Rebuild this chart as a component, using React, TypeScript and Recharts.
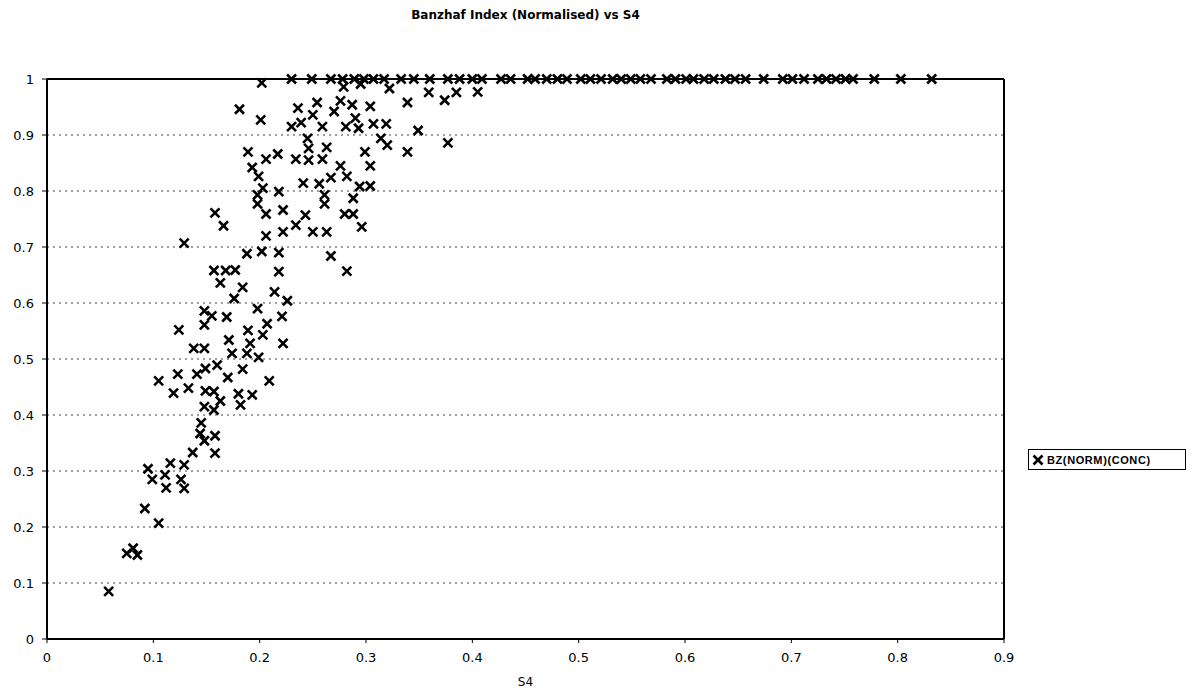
import { ScatterChart, Scatter, XAxis, YAxis, CartesianGrid, ReferenceLine, Legend } from "recharts";

// S4 values of the points that sit on the BZ = 1 line
const s4AtOne = [
  0.23, 0.249, 0.267, 0.278, 0.289, 0.298, 0.307, 0.317, 0.333, 0.345, 0.36, 0.377, 0.388, 0.4, 0.409,
  0.427, 0.436, 0.452, 0.459, 0.47, 0.48, 0.489, 0.502, 0.511, 0.521, 0.532, 0.54, 0.549, 0.558, 0.568,
  0.583, 0.591, 0.601, 0.608, 0.618, 0.627, 0.638, 0.647, 0.657, 0.674, 0.692, 0.701, 0.712, 0.725,
  0.733, 0.742, 0.751, 0.758, 0.778, 0.803, 0.832,
];

// the rest of the cloud: S4 and normalised Banzhaf index, pairwise
const s4 = [
  0.202, 0.279, 0.295, 0.322, 0.359, 0.374, 0.385, 0.405, 0.254, 0.27, 0.181, 0.201, 0.236, 0.25, 0.239,
  0.23, 0.259, 0.276, 0.287, 0.304, 0.339, 0.29, 0.307, 0.319, 0.281, 0.293, 0.349, 0.245, 0.314, 0.32,
  0.377, 0.246, 0.263, 0.189, 0.299, 0.339, 0.217, 0.206, 0.234, 0.246, 0.259, 0.193, 0.276, 0.304,
  0.199, 0.267, 0.282, 0.241, 0.256, 0.294, 0.304, 0.203, 0.218, 0.198, 0.261, 0.288, 0.198, 0.261,
  0.222, 0.206, 0.243, 0.28, 0.288, 0.158, 0.166, 0.234, 0.296, 0.222, 0.25, 0.263, 0.206, 0.129,
  0.188, 0.202, 0.218, 0.267, 0.282, 0.157, 0.168, 0.177, 0.218, 0.163, 0.184, 0.214, 0.176, 0.226,
  0.198, 0.148, 0.155, 0.169, 0.221, 0.148, 0.124, 0.207, 0.189, 0.203, 0.171, 0.191, 0.222, 0.138,
  0.148, 0.174, 0.188, 0.199, 0.16, 0.184, 0.149, 0.105, 0.123, 0.141, 0.17, 0.209, 0.133, 0.119,
  0.149, 0.157, 0.18, 0.193, 0.163, 0.182, 0.148, 0.157, 0.145, 0.144, 0.158, 0.148, 0.158, 0.137,
  0.129, 0.116, 0.095, 0.099, 0.111, 0.126, 0.112, 0.129, 0.092, 0.105, 0.081, 0.075, 0.085, 0.058,
];
const bz = [
  0.993, 0.986, 0.991, 0.983, 0.976, 0.962, 0.976, 0.977, 0.958, 0.942, 0.946, 0.927, 0.948, 0.936, 0.922,
  0.915, 0.915, 0.961, 0.954, 0.951, 0.958, 0.93, 0.92, 0.92, 0.915, 0.912, 0.908, 0.894, 0.894, 0.882,
  0.886, 0.876, 0.878, 0.87, 0.87, 0.87, 0.866, 0.857, 0.857, 0.855, 0.857, 0.842, 0.845, 0.845,
  0.826, 0.824, 0.826, 0.814, 0.813, 0.808, 0.809, 0.805, 0.799, 0.793, 0.793, 0.787, 0.777, 0.777,
  0.766, 0.759, 0.757, 0.759, 0.759, 0.761, 0.738, 0.739, 0.736, 0.727, 0.727, 0.727, 0.72, 0.707,
  0.688, 0.692, 0.69, 0.684, 0.657, 0.658, 0.658, 0.659, 0.656, 0.636, 0.628, 0.62, 0.608, 0.604,
  0.59, 0.586, 0.577, 0.575, 0.576, 0.561, 0.552, 0.563, 0.551, 0.543, 0.534, 0.528, 0.528, 0.519,
  0.519, 0.51, 0.51, 0.503, 0.489, 0.482, 0.483, 0.461, 0.473, 0.473, 0.467, 0.461, 0.448, 0.439,
  0.443, 0.442, 0.438, 0.436, 0.425, 0.418, 0.415, 0.409, 0.386, 0.367, 0.363, 0.354, 0.332, 0.333,
  0.311, 0.314, 0.304, 0.285, 0.293, 0.285, 0.27, 0.269, 0.233, 0.207, 0.162, 0.153, 0.15, 0.085,
];

const xTicks = [0, 0.1, 0.2, 0.3, 0.4, 0.5, 0.6, 0.7, 0.8, 0.9];
const yTicks = [0, 0.1, 0.2, 0.3, 0.4, 0.5, 0.6, 0.7, 0.8, 0.9, 1];

const seriesName = "BZ(NORM)(CONC)";

const points = [
  ...s4AtOne.map((x) => ({ s4: x, bz: 1 })),
  ...s4.map((x, i) => ({ s4: x, bz: bz[i] })),
];

const font = "'DejaVu Sans', Verdana, sans-serif";

function Cross({ cx, cy }: { cx?: number; cy?: number }) {
  if (cx == null || cy == null) return null;
  const r = 4.5;
  return (
    <g stroke="#000" strokeWidth={2.6}>
      <line x1={cx - r} y1={cy - r} x2={cx + r} y2={cy + r} />
      <line x1={cx - r} y1={cy + r} x2={cx + r} y2={cy - r} />
    </g>
  );
}

function LegendBox() {
  return (
    <div
      style={{
        border: "1px solid #000",
        display: "flex",
        alignItems: "center",
        height: 19,
        padding: "0 2px",
        fontFamily: "'Liberation Sans', Arial, sans-serif",
        fontWeight: "bold",
        fontSize: 11,
        whiteSpace: "nowrap",
      }}
    >
      <svg width={14} height={14}>
        <Cross cx={7} cy={7} />
      </svg>
      <span style={{ marginLeft: 2, letterSpacing: 0.6 }}>{seriesName}</span>
    </div>
  );
}

export default function App() {
  return (
    <div style={{ position: "relative", width: 1178, height: 683, background: "#fff" }}>
      <div
        style={{
          position: "absolute",
          top: 0,
          left: 0,
          width: 1035,
          textAlign: "center",
          fontFamily: font,
          fontWeight: "bold",
          fontSize: 12,
        }}
      >
        Banzhaf Index (Normalised) vs S4
      </div>
      <ScatterChart width={1178} height={683} margin={{ top: 71, right: 182, bottom: 0, left: 0 }}>
        <CartesianGrid
          vertical={false}
          stroke="#808080"
          strokeDasharray="2 4"
          strokeWidth={1.5}
        />
        <XAxis
          type="number"
          dataKey="s4"
          domain={[0, 0.9]}
          ticks={xTicks}
          height={52}
          tickSize={4}
          axisLine={{ stroke: "#000", strokeWidth: 2 }}
          tickLine={{ stroke: "#000" }}
          tick={{ fill: "#000", fontSize: 13, fontFamily: font }}
          tickMargin={10}
          label={{ value: "S4", position: "insideBottom", offset: 5, fill: "#000", fontSize: 12, fontFamily: font }}
        />
        <YAxis
          type="number"
          dataKey="bz"
          domain={[0, 1]}
          ticks={yTicks}
          width={39}
          tickSize={5}
          tickMargin={8}
          axisLine={{ stroke: "#000", strokeWidth: 2 }}
          tickLine={{ stroke: "#000" }}
          tick={{ fill: "#000", fontSize: 13, fontFamily: font }}
        />
        <ReferenceLine y={1} stroke="#000" strokeWidth={2} />
        <ReferenceLine x={0.9} stroke="#000" strokeWidth={2} />
        <Legend
          layout="horizontal"
          align="center"
          verticalAlign="middle"
          wrapperStyle={{ left: 1020, top: 441, width: 158 }}
          content={() => <LegendBox />}
        />
        <Scatter
          name={seriesName}
          data={points}
          isAnimationActive={false}
          shape={(p: any) => <Cross cx={p.cx} cy={p.cy} />}
        />
      </ScatterChart>
    </div>
  );
}
